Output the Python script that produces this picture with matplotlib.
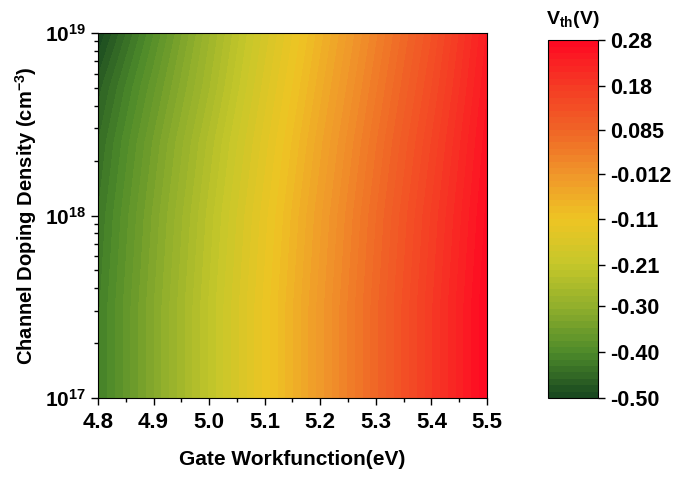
import matplotlib
matplotlib.use("Agg")
import matplotlib.pyplot as plt
import numpy as np
from matplotlib.colors import LinearSegmentedColormap
from matplotlib.ticker import FuncFormatter, MultipleLocator, FixedLocator

plt.rcParams["font.family"] = ["Liberation Sans", "DejaVu Sans"]
plt.rcParams["font.weight"] = "bold"
plt.rcParams["mathtext.fontset"] = "custom"
plt.rcParams["mathtext.rm"] = "Liberation Sans:bold"
plt.rcParams["mathtext.bf"] = "Liberation Sans:bold"
plt.rcParams["mathtext.it"] = "Liberation Sans:bold"

# gate workfunction (eV) and channel doping exponents (log10 cm^-3)
workfunction = [4.8, 4.9, 5.0, 5.1, 5.2, 5.3, 5.4, 5.5]
doping_exp = [17.0, 17.5, 18.0, 18.4, 18.7, 19.0]

# threshold voltage (V), one row per doping value
vth_rows = [
    [-0.42, -0.32, -0.22, -0.12, -0.02, 0.08, 0.18, 0.28],
    [-0.42, -0.32, -0.22, -0.12, -0.02, 0.08, 0.18, 0.28],
    [-0.43, -0.33, -0.23, -0.13, -0.03, 0.07, 0.17, 0.27],
    [-0.445, -0.345, -0.245, -0.145, -0.045, 0.055, 0.155, 0.26],
    [-0.465, -0.365, -0.265, -0.16, -0.06, 0.04, 0.14, 0.25],
    [-0.50, -0.39, -0.28, -0.175, -0.075, 0.025, 0.125, 0.24],
]

cbar_ticks = [-0.50, -0.40, -0.30, -0.21, -0.11, -0.012, 0.085, 0.18, 0.28]
cbar_labels = ["-0.50", "-0.40", "-0.30", "-0.21", "-0.11", "-0.012", "0.085", "0.18", "0.28"]

cmap = LinearSegmentedColormap.from_list("gyr", [
    (0.000, "#17461f"),
    (0.125, "#4d8a2a"),
    (0.250, "#8fae2c"),
    (0.375, "#c6c72a"),
    (0.500, "#eec524"),
    (0.625, "#f0962a"),
    (0.750, "#f06426"),
    (0.875, "#f53a24"),
    (1.000, "#ff0822"),
])

X, Y = np.meshgrid(workfunction, doping_exp)
Z = np.array(vth_rows)

fig = plt.figure(figsize=(6.83, 4.79), dpi=100)
ax = fig.add_axes([0.1435, 0.169, 0.5695, 0.762])
cax = fig.add_axes([0.802, 0.169, 0.074, 0.747])

levels = np.linspace(-0.5, 0.28, 57)
cs = ax.contourf(X, Y, Z, levels=levels, cmap=cmap)
ax.set_xlim(4.8, 5.5)
ax.set_ylim(17, 19)

ax.xaxis.set_major_locator(MultipleLocator(0.1))
ax.xaxis.set_minor_locator(MultipleLocator(0.05))
ax.xaxis.set_major_formatter(FuncFormatter(lambda v, _: f"{v:.1f}"))
ax.yaxis.set_major_locator(FixedLocator([17, 18, 19]))
minor_pos = [e + np.log10(k) for e in (17, 18) for k in range(2, 10)]
ax.yaxis.set_minor_locator(FixedLocator(minor_pos))
ax.yaxis.set_major_formatter(FuncFormatter(lambda v, _: r"$\mathbf{10^{%d}}$" % round(v)))
ax.tick_params(which="both", direction="out", top=False, right=False)
ax.tick_params(axis="x", which="major", length=5, width=1, labelsize=16, pad=5)
ax.tick_params(axis="y", which="major", length=5, width=1, labelsize=15)
ax.tick_params(which="minor", length=3, width=1)
for sp in ax.spines.values():
    sp.set_linewidth(0.8)

ax.set_xlabel("Gate Workfunction(eV)", fontsize=15, fontweight="bold", labelpad=12)
ax.set_ylabel(r"Channel Doping Density (cm$^{\mathbf{-3}}$)", fontsize=14.5, fontweight="bold", labelpad=4)

cb = fig.colorbar(cs, cax=cax, ticks=cbar_ticks)
cb.ax.set_yticklabels(cbar_labels)
cb.ax.set_ylim(-0.5, 0.28)
cb.ax.tick_params(direction="out", length=5, width=1, labelsize=15.5)
cb.ax.minorticks_off()
cb.outline.set_linewidth(0.8)
cax.set_title(r"V$_{\mathbf{th}}$(V)", fontsize=14, fontweight="bold", pad=12)

fig.savefig("out.png", dpi=100)
